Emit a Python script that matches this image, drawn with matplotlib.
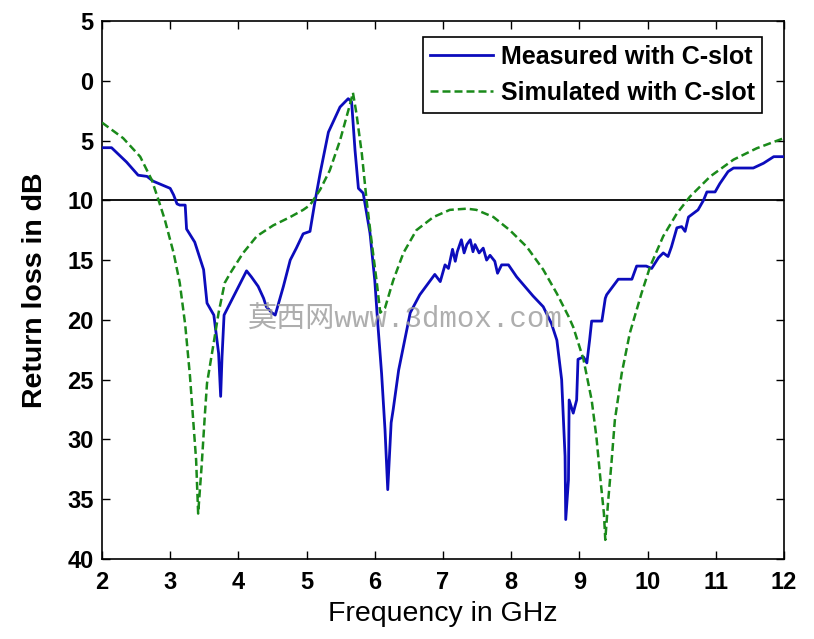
import numpy as np
import matplotlib
matplotlib.use("Agg")
import matplotlib.pyplot as plt

# =====================================================
# DATA
# =====================================================

meas_f = [2.0, 2.14, 2.36, 2.53, 2.66, 2.75, 3.0, 3.05, 3.10, 3.14, 3.22, 3.24,
          3.36, 3.49, 3.54, 3.64, 3.71, 3.74, 3.76, 3.79, 4.12, 4.19, 4.29,
          4.37, 4.41, 4.49, 4.54, 4.66, 4.76, 4.85, 4.95, 5.05, 5.12, 5.2,
          5.32, 5.49, 5.61, 5.66, 5.71, 5.76, 5.83, 5.93, 6.0, 6.04, 6.10,
          6.15, 6.19, 6.24, 6.27, 6.35, 6.52, 6.66, 6.88, 6.96, 7.03, 7.08,
          7.14, 7.18, 7.21, 7.27, 7.31, 7.35, 7.40, 7.44, 7.47, 7.53, 7.59,
          7.64, 7.69, 7.76, 7.80, 7.86, 7.96, 8.08, 8.32, 8.47, 8.59, 8.67,
          8.74, 8.79, 8.80, 8.84, 8.85, 8.91, 8.96, 8.98, 9.06, 9.11, 9.15,
          9.18, 9.33, 9.38, 9.40, 9.57, 9.77, 9.84, 9.98, 10.06, 10.16, 10.23,
          10.30, 10.35, 10.43, 10.50, 10.55, 10.60, 10.67, 10.74, 10.82,
          10.87, 10.99, 11.06, 11.18, 11.26, 11.55, 11.70, 11.85, 12.0]
meas_rl = [5.6, 5.6, 6.8, 7.9, 8.0, 8.4, 9.0, 9.55, 10.3, 10.4, 10.4, 12.4,
           13.5, 15.8, 18.6, 19.6, 22.8, 26.4, 23.1, 19.6, 15.9, 16.4, 17.2,
           18.2, 18.9, 19.4, 19.6, 17.2, 15.0, 14.0, 12.8, 12.6, 10.2, 7.7,
           4.3, 2.2, 1.5, 1.75, 5.8, 9.0, 9.4, 12.75, 16.7, 20.0, 24.5,
           29.2, 34.2, 28.6, 27.5, 24.2, 19.4, 17.9, 16.2, 16.8, 15.4, 15.7,
           14.1, 15.1, 14.3, 13.3, 14.4, 13.7, 13.3, 14.3, 13.7, 14.4, 14.0,
           15.0, 14.6, 15.1, 16.1, 15.4, 15.4, 16.4, 18.0, 18.9, 20.3, 21.7,
           25.0, 31.4, 36.7, 33.4, 26.7, 27.8, 26.7, 23.3, 23.1, 23.6, 21.7,
           20.1, 20.1, 18.2, 17.9, 16.6, 16.6, 15.5, 15.5, 15.7, 14.8, 14.4,
           14.7, 13.9, 12.3, 12.2, 12.6, 11.4, 11.1, 10.8, 10.0,
           9.3, 9.3, 8.6, 7.6, 7.3, 7.3, 6.9, 6.35, 6.35]

sim_f = [2.0, 2.31, 2.56, 2.73, 2.83, 2.92, 3.05, 3.14, 3.22, 3.29, 3.34,
         3.38, 3.41, 3.46, 3.51, 3.54, 3.63, 3.71, 3.80, 3.88, 4.07, 4.27,
         4.51, 4.76, 4.95, 5.05, 5.20, 5.34, 5.49, 5.64, 5.68, 5.73, 5.81,
         5.88, 5.95, 6.03, 6.08, 6.15, 6.27, 6.42, 6.61, 6.86, 7.10, 7.35,
         7.49, 7.74, 7.98, 8.23, 8.47, 8.67, 8.84, 8.91, 9.06, 9.18, 9.25,
         9.31, 9.36, 9.38, 9.42, 9.47, 9.52, 9.62, 9.74, 9.91, 10.04, 10.23,
         10.43, 10.62, 10.92, 11.26, 11.6, 12.0]
sim_rl = [3.5, 4.8, 6.35, 8.3, 10.0, 11.6, 14.4, 16.9, 20.4, 24.7, 28.6,
          31.7, 36.2, 32.3, 27.8, 25.3, 22.2, 19.4, 16.9, 16.1, 14.4, 13.0,
          12.1, 11.4, 10.8, 10.4, 9.1, 7.5, 5.0, 1.9, 1.0, 2.7, 6.1,
          10.0, 13.3, 16.9, 19.4, 19.0, 16.7, 14.4, 12.5, 11.4, 10.8, 10.7,
          10.8, 11.4, 12.5, 13.9, 15.8, 17.8, 19.7, 20.6, 23.3, 26.7, 29.8,
          33.4, 36.2, 38.4, 35.3, 32.0, 28.4, 24.5, 21.1, 17.8, 15.5, 13.0,
          11.1, 9.7, 8.0, 6.6, 5.65, 4.8]

ref_level = 10
x_ticks = list(range(2, 13))
y_ticks = list(range(-5, 41, 5))

# =====================================================
# PLOT
# =====================================================

plt.rcParams['font.family'] = ['Liberation Sans', 'DejaVu Sans']

fig = plt.figure(figsize=(8.14, 6.39), dpi=100)
ax = fig.add_axes([0.1253, 0.1252, 0.8378, 0.842])

ax.plot(meas_f, meas_rl, color='#0c0cbc', lw=2.0,
        label='Measured with C-slot', zorder=3)
ax.plot(sim_f, sim_rl, '--', color='#1a8a1a', lw=1.8, dashes=(3.2, 1.6),
        label='Simulated with C-slot', zorder=3)
ax.axhline(ref_level, color='black', lw=1.3, zorder=2)

ax.set_xlim(2, 12)
ax.set_ylim(40, -5)
ax.set_xticks(x_ticks)
ax.set_yticks(y_ticks)
ax.set_yticklabels([str(abs(v)) for v in y_ticks])

ax.tick_params(direction='in', length=6, width=1, top=True, right=True,
               labelsize=17)
ax.tick_params(axis='x', pad=9)
ax.tick_params(axis='y', pad=6)
for lbl in ax.get_xticklabels() + ax.get_yticklabels():
    lbl.set_fontweight('bold')
for sp in ax.spines.values():
    sp.set_linewidth(1.2)

ax.set_xlabel('Frequency in GHz', fontsize=20.5, labelpad=5)
ax.set_ylabel('Return loss in dB', fontsize=20.5, fontweight='bold', labelpad=14)

leg = ax.legend(loc='upper right', bbox_to_anchor=(0.968, 0.970),
                borderaxespad=0, fancybox=False, edgecolor='black',
                framealpha=1, handlelength=2.5, handletextpad=0.32,
                borderpad=0.3, labelspacing=0.5,
                prop={'size': 18, 'weight': 'bold'})
leg.get_frame().set_linewidth(1.2)

# watermark seen on the source image
ax.text(0.214, 0.444, '莫西网www.3dmox.com', transform=ax.transAxes,
        fontsize=21, color='#a0a0a0', alpha=0.85, va='center', ha='left',
        family=['Liberation Mono', 'Noto Sans CJK SC'], zorder=5)

fig.savefig('out.png', dpi=100)
